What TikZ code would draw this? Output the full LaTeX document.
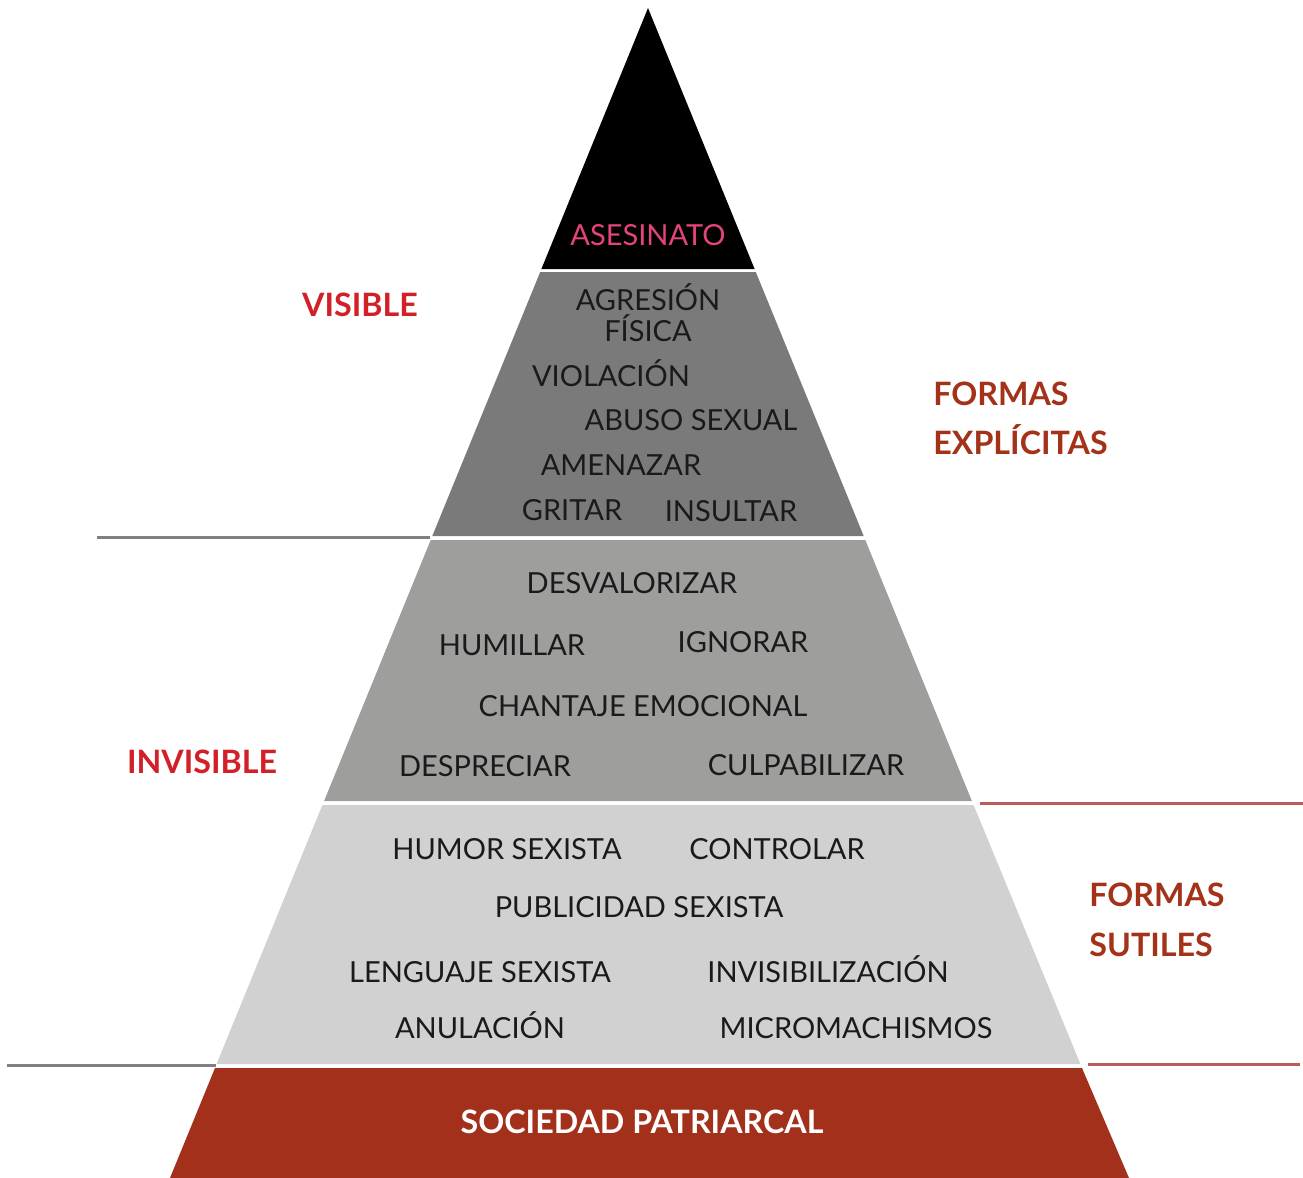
\documentclass[tikz,border=0pt]{standalone}
\usepackage{fontspec}
\setmainfont{Lato}
\usepackage{tikz}
\definecolor{capanegra}{RGB}{0,0,0}
\definecolor{capaoscura}{RGB}{122,122,122}
\definecolor{capamedia}{RGB}{158,158,157}
\definecolor{capaclara}{RGB}{209,209,209}
\definecolor{capabase}{RGB}{162,48,26}
\definecolor{rosaasesinato}{RGB}{228,68,120}
\definecolor{rojovisible}{RGB}{210,32,40}
\definecolor{rojoformas}{RGB}{163,50,25}
\definecolor{lineagris}{RGB}{128,128,128}
\definecolor{linearoja}{RGB}{185,92,92}
\definecolor{textocapa}{RGB}{26,26,26}

\begin{document}
\begin{tikzpicture}[x=0.5pt,y=-0.5pt,
  capatexto/.style={font=\fontsize{14.5}{17}\selectfont,text=textocapa,inner sep=0pt,text height=0.72em,text depth=0pt},
  lado/.style={font=\bfseries\fontsize{16.1}{20}\selectfont,inner sep=0pt,text height=0.72em,text depth=0pt},
  formas/.style={lado,text=rojoformas,anchor=west}]
\useasboundingbox (0,0) rectangle (1303,1178);

% capas de la piramide
\fill[capanegra] (648,8) -- (754.6,269) -- (541.4,269) -- cycle;
\fill[capaoscura] (540.2,272) -- (755.8,272) -- (863.7,536) -- (432.3,536) -- cycle;
\fill[capamedia] (430.7,540) -- (865.3,540) -- (971.9,801) -- (324.1,801) -- cycle;
\fill[capaclara] (322.4,805) -- (973.6,805) -- (1080.4,1064) -- (216.6,1064) -- cycle;
\fill[capabase] (215,1068) -- (1082,1068) -- (1129,1178) -- (170,1178) -- cycle;

% lineas laterales
\draw[lineagris,line width=1.5pt] (97,537) -- (430,537);
\draw[linearoja,line width=1.5pt] (980,803) -- (1303,803);
\draw[lineagris,line width=1.5pt] (7,1065) -- (216,1065);
\draw[linearoja,line width=1.5pt] (1088,1064) -- (1300,1064);

% textos
\node[capatexto,text=rosaasesinato] (asesinato) at (648,238) {ASESINATO};
\node[capatexto] (agresion) at (648,303) {AGRESIÓN};
\node[capatexto] (fisica) at (648,334) {FÍSICA};
\node[capatexto] (violacion) at (611,379) {VIOLACIÓN};
\node[capatexto] (abuso) at (691,423) {ABUSO SEXUAL};
\node[capatexto] (amenazar) at (621,468) {AMENAZAR};
\node[capatexto] (gritar) at (572,513) {GRITAR};
\node[capatexto] (insultar) at (731,514) {INSULTAR};

\node[capatexto] (desvalorizar) at (632,586) {DESVALORIZAR};
\node[capatexto] (humillar) at (512,648) {HUMILLAR};
\node[capatexto] (ignorar) at (743,645) {IGNORAR};
\node[capatexto] (chantaje) at (643,709) {CHANTAJE EMOCIONAL};
\node[capatexto] (despreciar) at (485,769) {DESPRECIAR};
\node[capatexto] (culpabilizar) at (806,768) {CULPABILIZAR};

\node[capatexto] (humor) at (507,852) {HUMOR SEXISTA};
\node[capatexto] (controlar) at (777,852) {CONTROLAR};
\node[capatexto] (publicidad) at (639,910) {PUBLICIDAD SEXISTA};
\node[capatexto] (lenguaje) at (480,975) {LENGUAJE SEXISTA};
\node[capatexto] (invisibilizacion) at (828,975) {INVISIBILIZACIÓN};
\node[capatexto] (anulacion) at (480,1031) {ANULACIÓN};
\node[capatexto] (micromachismos) at (856,1031) {MICROMACHISMOS};

\node[lado,text=white] (sociedad) at (642,1126) {SOCIEDAD PATRIARCAL};

\node[lado,text=rojovisible] (visible) at (360,309) {VISIBLE};
\node[lado,text=rojovisible] (invisible) at (202,766) {INVISIBLE};

\node[formas] (formasexp) at (933,398) {FORMAS};
\node[formas] (explicitas) at (933,447) {EXPLÍCITAS};
\node[formas] (formassut) at (1089,899) {FORMAS};
\node[formas] (sutiles) at (1089,949) {SUTILES};
\end{tikzpicture}
\end{document}
